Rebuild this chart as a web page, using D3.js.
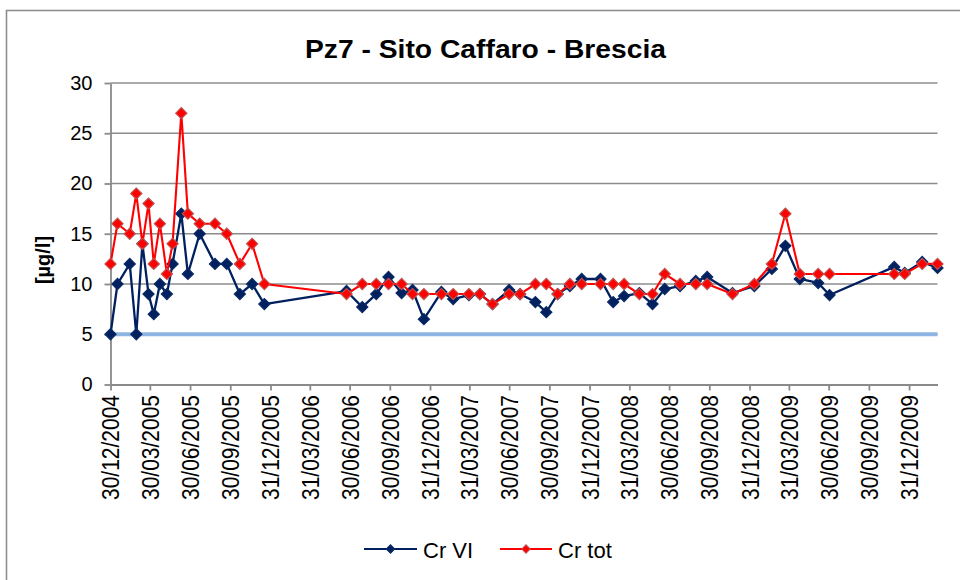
<!DOCTYPE html>
<html>
<head>
<meta charset="utf-8">
<script src="https://cdn.jsdelivr.net/npm/d3@7"></script>
<style>
  html, body { margin: 0; padding: 0; background: #fff; }
  svg { display: block; font-family: "Liberation Sans", Arial, sans-serif; }
</style>
</head>
<body>
<svg id="chart" width="960" height="580"></svg>
<script>
// Sampling dates (Pz7 piezometer)
const sampleDates = [
  "2004-12-30","2005-01-15","2005-02-12","2005-02-27","2005-03-13","2005-03-27",
  "2005-04-08","2005-04-22","2005-05-08","2005-05-21","2005-06-10","2005-06-25",
  "2005-07-22","2005-08-26","2005-09-22","2005-10-22","2005-11-19","2005-12-17",
  "2006-06-23","2006-07-29","2006-08-30","2006-09-27","2006-10-27","2006-11-21",
  "2006-12-17","2007-01-26","2007-02-22","2007-03-30","2007-04-24","2007-05-23",
  "2007-06-30","2007-07-25","2007-08-29","2007-09-23","2007-10-19","2007-11-16",
  "2007-12-13","2008-01-25","2008-02-23","2008-03-19","2008-04-23","2008-05-23",
  "2008-06-20","2008-07-25","2008-08-30","2008-09-25","2008-11-22","2009-01-11",
  "2009-02-20","2009-03-23","2009-04-25","2009-06-06","2009-07-02","2009-11-27",
  "2009-12-21","2010-01-30","2010-03-06"
];

// Hexavalent chromium, µg/l
const crVI = [
  5, 10, 12, 5, 14, 9, 7, 10, 9, 12, 17, 11,
  15, 12, 12, 9, 10, 8,
  9.3, 7.7, 9, 10.7, 9.1, 9.4, 6.5, 9.2, 8.5, 8.9, 9, 8,
  9.4, 9, 8.2, 7.2, 9, 9.8, 10.5, 10.5, 8.2, 8.8, 9.1, 8,
  9.5, 9.8, 10.3, 10.7, 9.1, 9.8, 11.5, 13.8, 10.5, 10.1, 8.9, 11.7,
  11.1, 12.2, 11.6
];

// Total chromium, µg/l
const crTot = [
  12, 16, 15, 19, 14, 18, 12, 16, 11, 14, 27, 17,
  16, 16, 15, 12, 14, 10,
  9, 10, 10, 10, 10, 9, 9, 9, 9, 9, 9, 8,
  9, 9, 10, 10, 9, 10, 10, 10, 10, 10, 9, 9,
  11, 10, 10, 10, 9, 10, 12, 17, 11, 11, 11, 11,
  11, 12, 12
];

// Regulatory limit for Cr VI, µg/l
const limitValue = 5;

const yTicks = [0, 5, 10, 15, 20, 25, 30];
const xTickLabels = [
  "30/12/2004","30/03/2005","30/06/2005","30/09/2005","31/12/2005","31/03/2006",
  "30/06/2006","30/09/2006","31/12/2006","31/03/2007","30/06/2007","30/09/2007",
  "31/12/2007","31/03/2008","30/06/2008","30/09/2008","31/12/2008","31/03/2009",
  "30/06/2009","30/09/2009","31/12/2009"
];
const seriesNames = ["Cr VI", "Cr tot"];

const parseISO = d3.utcParse("%Y-%m-%d");
const parseLabel = d3.utcParse("%d/%m/%Y");
const dates = sampleDates.map(parseISO);
const tickDates = xTickLabels.map(parseLabel);

const svg = d3.select("#chart");
const gridColor = "#8c8c8c";
const axisColor = "#8a8a8a";
const blue = "#002060";
const red = "#ff0000";

// Outer chart frame
svg.append("rect")
  .attr("x", 6.5).attr("y", 10.5)
  .attr("width", 1000).attr("height", 700)
  .attr("fill", "#fff")
  .attr("stroke", "#8f8f8f").attr("stroke-width", 1.6);

const plot = { left: 110.5, right: 937.5, top: 83, bottom: 384.5 };

const x = d3.scaleUtc()
  .domain([parseISO("2004-12-30"), parseISO("2010-03-06")])
  .range([plot.left, plot.right]);

const y = d3.scaleLinear()
  .domain([0, 30])
  .range([plot.bottom, plot.top]);

// Title
svg.append("text")
  .attr("x", 485.5).attr("y", 58)
  .attr("text-anchor", "middle")
  .attr("font-size", 26).attr("font-weight", "bold")
  .attr("textLength", 361).attr("lengthAdjust", "spacingAndGlyphs")
  .text("Pz7 - Sito Caffaro - Brescia");

// Horizontal gridlines
svg.append("g")
  .selectAll("line")
  .data(yTicks.filter(v => v > 0))
  .join("line")
  .attr("x1", plot.left).attr("x2", plot.right)
  .attr("y1", d => y(d)).attr("y2", d => y(d))
  .attr("stroke", gridColor).attr("stroke-width", 1.6);

// Y axis
const yAxis = svg.append("g")
  .attr("transform", `translate(${plot.left},0)`)
  .call(d3.axisLeft(y).tickValues(yTicks).tickSize(6).tickSizeOuter(0).tickPadding(12));
yAxis.selectAll("path, line").attr("stroke", axisColor).attr("stroke-width", 1.8);
yAxis.selectAll("text")
  .attr("font-size", 20).attr("fill", "#000")
  .attr("font-family", "'Liberation Sans', Arial, sans-serif");

// X axis
const xAxis = svg.append("g")
  .attr("transform", `translate(0,${plot.bottom})`)
  .call(d3.axisBottom(x).tickValues(tickDates).tickSize(6).tickSizeOuter(0)
    .tickFormat((d, i) => xTickLabels[i]));
xAxis.selectAll("path, line").attr("stroke", axisColor).attr("stroke-width", 1.8);
xAxis.selectAll("text")
  .attr("font-size", 21).attr("fill", "#000")
  .attr("font-family", "'Liberation Sans', Arial, sans-serif")
  .attr("transform", "rotate(-90) scale(1,1.12)")
  .attr("x", -10.5).attr("y", 0).attr("dy", "0.36em")
  .style("text-anchor", "end");

// Y axis title
svg.append("text")
  .attr("transform", "translate(43,260) rotate(-90)")
  .attr("text-anchor", "middle").attr("dy", "0.35em")
  .attr("font-size", 20).attr("font-weight", "bold")
  .text("[µg/l]");

// Limit line
svg.append("line")
  .attr("x1", plot.left).attr("x2", plot.right)
  .attr("y1", y(limitValue)).attr("y2", y(limitValue))
  .attr("stroke", "#8eb4e3").attr("stroke-width", 4.2);

const diamond = d3.symbol().type(d3.symbolSquare);

function drawSeries(values, lineColor, fill, stroke, width) {
  const pts = dates.map((d, i) => [x(d), y(values[i])]);
  svg.append("path")
    .attr("d", d3.line()(pts))
    .attr("fill", "none")
    .attr("stroke", lineColor).attr("stroke-width", width)
    .attr("stroke-linejoin", "round");
  svg.append("g")
    .selectAll("path")
    .data(pts)
    .join("path")
    .attr("d", diamond.size(62)())
    .attr("transform", d => `translate(${d[0]},${d[1]}) rotate(45)`)
    .attr("fill", fill).attr("stroke", stroke).attr("stroke-width", 1.2);
}

drawSeries(crVI, blue, blue, "#0b2a66", 2.3);
drawSeries(crTot, red, red, "#c0504d", 2.1);

// Legend
const legend = [
  { name: seriesNames[0], color: blue, fill: blue, stroke: "#0b2a66", x0: 364, x1: 417, tx: 423 },
  { name: seriesNames[1], color: red, fill: red, stroke: "#c0504d", x0: 500, x1: 552, tx: 558 }
];
const lg = svg.append("g");
legend.forEach(l => {
  lg.append("line")
    .attr("x1", l.x0).attr("x2", l.x1).attr("y1", 549).attr("y2", 549)
    .attr("stroke", l.color).attr("stroke-width", 2.2);
  lg.append("path")
    .attr("d", d3.symbol().type(d3.symbolSquare).size(36)())
    .attr("transform", `translate(${(l.x0 + l.x1) / 2},549) rotate(45)`)
    .attr("fill", l.fill).attr("stroke", l.stroke).attr("stroke-width", 1);
  lg.append("text")
    .attr("x", l.tx).attr("y", 558)
    .attr("font-size", 22)
    .text(l.name);
});
</script>
</body>
</html>
